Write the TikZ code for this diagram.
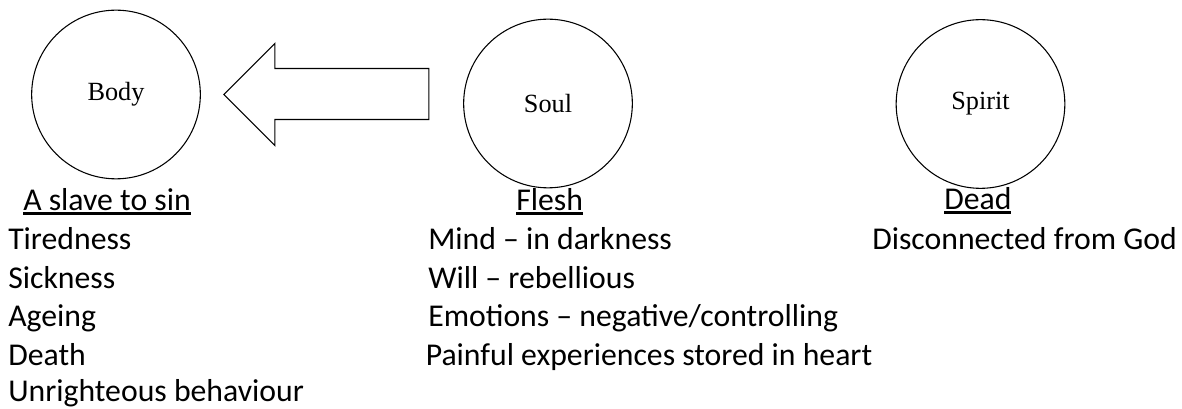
\documentclass[tikz,border=0pt]{standalone}
\usepackage{fontspec}
\setmainfont{Carlito}
\newfontfamily\circfont{Liberation Serif}
\newcommand\undl[1]{\setbox0\hbox{#1}\rlap{\rule[-3pt]{\wd0}{1.9pt}}\box0}

\tikzset{
  part/.style={circle,draw=black,line width=0.8pt,inner sep=0pt,minimum size=126.5pt,
    font=\circfont\fontsize{19.7}{23}\selectfont},
  item/.style={anchor=base west,inner sep=0pt,font=\fontsize{23.8}{28}\selectfont},
  blockarrow/.style={draw=black,line width=0.8pt,line join=miter}
}

\begin{document}
\begin{tikzpicture}[x=0.75pt,y=0.75pt]
    \useasboundingbox (0,0) rectangle (1182,-409);

    \node (body) at (116,-94.5) [part] {Body};
    \node (soul) at (548,-103.5) [part] {Soul};
    \node (spirit) at (980.5,-104) [part] {Spirit};

    \draw[blockarrow] (body.east) ++(23,0) --++(51,51) --++(0,-25) --++(154,0)
        --++(0,-51) --++(-154,0) --++(0,-26) -- cycle;

    \node (slave) at (23,-211) [item] {\undl{A slave to sin}};
    \node (tired) at (8,-250) [item] {Tiredness};
    \node (sick) at (8,-288.5) [item] {Sickness};
    \node (age) at (8,-327) [item] {Ageing};
    \node (death) at (8,-365.5) [item] {Death};
    \node (unright) at (8,-402) [item] {Unrighteous behaviour};

    \node (flesh) at (516,-211) [item] {\undl{Flesh}};
    \node (mind) at (428,-250) [item] {Mind -- in darkness};
    \node (will) at (428,-288.5) [item] {Will -- rebellious};
    \node (emot) at (428,-327) [item] {Emotions -- negative/controlling};
    \node (pain) at (425.5,-365.5) [item] {Painful experiences stored in heart};

    \node (dead) at (944,-210) [item] {\undl{Dead}};
    \node (discon) at (872,-249.5) [item] {Disconnected from God};

  \end{tikzpicture}
\end{document}
